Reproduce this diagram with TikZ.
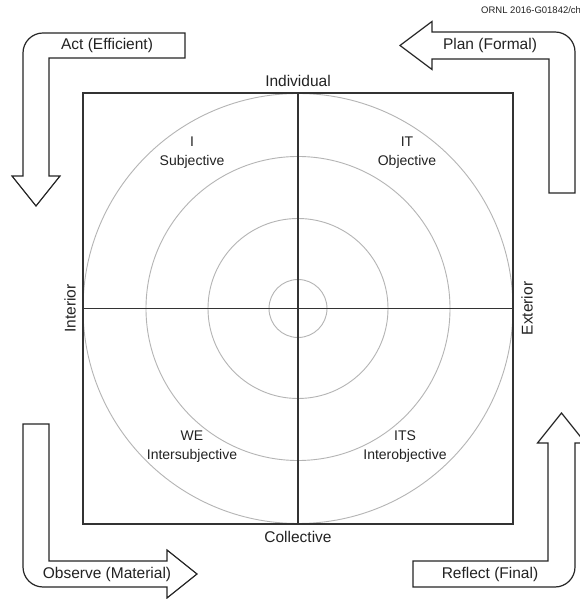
\documentclass[tikz,border=0pt]{standalone}
\usepackage{fontspec}
\setmainfont{Liberation Sans}
\usepackage{tikz}
\definecolor{frame}{HTML}{333333}
\definecolor{ring}{HTML}{B4B4B4}
\definecolor{ink}{HTML}{222222}
\tikzset{quadrant/.style={draw=frame, line width=1.3pt, inner sep=0, minimum width=430pt, minimum height=431pt}}
\tikzset{ring/.style={draw=ring, circle, line width=0.9pt, inner sep=0}}
\tikzset{axis label/.style={text=ink, font=\fontsize{15.5}{18}\selectfont}}
\tikzset{zone label/.style={text=ink, align=center, font=\fontsize{14}{19}\selectfont}}
\tikzset{cycle arrow/.style={draw=black!85, line width=1.2pt, fill=white, line join=miter}}
\tikzset{cycle label/.style={text=ink, font=\fontsize{15.5}{18}\selectfont}}

\begin{document}
\begin{tikzpicture}[x=1pt, y=1pt]
  \clip (0,0) rectangle (580,599);
  \fill[white] (0,0) rectangle (580,599);

  \coordinate (C) at (298,290.5);

  \node[ring, minimum size=430pt] at (C) (R4) {};
  \node[ring, minimum size=304pt] at (C) (R3) {};
  \node[ring, minimum size=180pt] at (C) (R2) {};
  \node[ring, minimum size=58pt] at (C) (R1) {};

  \node[quadrant] at (C) (Q) {};
  \draw[frame, line width=1.3pt] (Q.north) -- (Q.south);
  \draw[frame, line width=1.3pt] (Q.west) -- (Q.east);

  \node[axis label] at (298,518) (ind) {Individual};
  \node[axis label] at (298,62) (col) {Collective};
  \node[axis label, rotate=90] at (70,290.5) (int) {Interior};
  \node[axis label, rotate=90] at (527,290.5) (ext) {Exterior};

  \node[zone label] at (192,446.5) (I) {I\\Subjective};
  \node[zone label] at (407,446.5) (IT) {IT\\Objective};
  \node[zone label] at (192,152.5) (WE) {WE\\Intersubjective};
  \node[zone label] at (405,152.5) (ITS) {ITS\\Interobjective};

  \draw[cycle arrow] (185,566) -- (43,566) arc[start angle=90, end angle=180, radius=20pt]
    -- (23,423) -- (12,423) -- (36,393) -- (60,423) -- (49,423) -- (49,541) -- (185,541) -- cycle;
  \node[cycle label] at (107,553.5) (act) {Act (Efficient)};

  \draw[cycle arrow] (432,567) -- (555,567) arc[start angle=90, end angle=0, radius=20pt]
    -- (575,406) -- (549,406) -- (549,540) -- (432,540) -- (432,529.5) -- (400,553.5) -- (432,577.5) -- cycle;
  \node[cycle label] at (490,553.5) (plan) {Plan (Formal)};

  \draw[cycle arrow] (49,175) -- (23,175) -- (23,32) arc[start angle=180, end angle=270, radius=20pt]
    -- (167,12) -- (167,1) -- (197,25) -- (167,49) -- (167,38) -- (49,38) -- cycle;
  \node[cycle label] at (107,25) (obs) {Observe (Material)};

  \draw[cycle arrow] (413,38) -- (548,38) -- (548,156) -- (537.5,156) -- (561.5,186) -- (585.5,156)
    -- (575,156) -- (575,32) arc[start angle=0, end angle=-90, radius=20pt] -- (413,12) -- cycle;
  \node[cycle label] at (490,25) (refl) {Reflect (Final)};

  \node[text=ink, anchor=west, font=\fontsize{9.5}{11}\selectfont, inner sep=0] at (481,589) (tag) {ORNL 2016-G01842/ch};
\end{tikzpicture}
\end{document}
